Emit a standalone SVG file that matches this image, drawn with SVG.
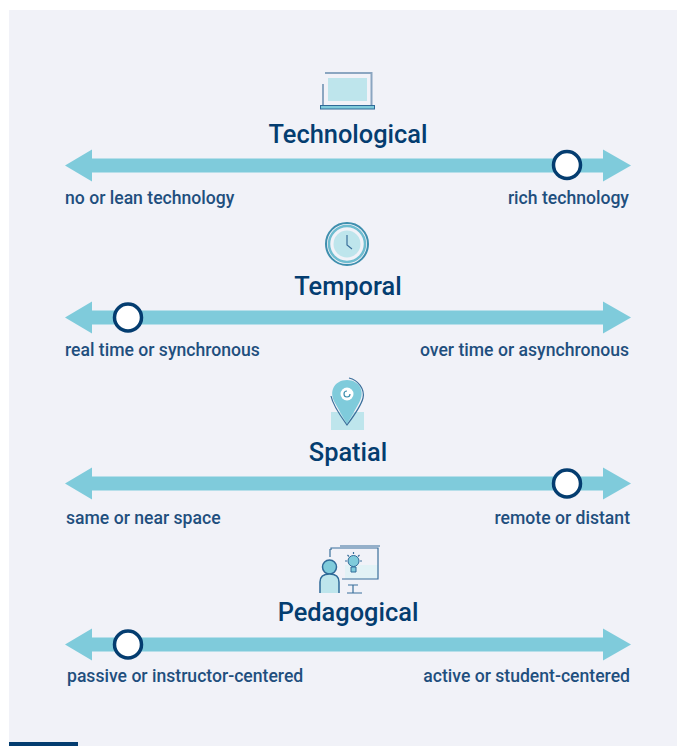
<svg xmlns="http://www.w3.org/2000/svg" width="677" height="746" viewBox="0 0 677 746">
<style>
text{font-family:Roboto,"Liberation Sans",sans-serif}
.t{font-size:25.4px;font-weight:500;fill:#043d70;text-anchor:middle}
.l{font-size:17.600px;font-weight:500;fill:#1f4f7e}
.e{text-anchor:end}
.ar{fill:#7fcbdb}
.k{fill:#fff;stroke:#043d70;stroke-width:3.5}
.ln{fill:none;stroke:#8ba6c1;stroke-width:2}
.dk{fill:none;stroke:#3a6f9b;stroke-width:1.2}
.pale{fill:#bee5ec}
</style>
<defs>
<path id="arrow" class="ar" d="M65 0L92-16V-7H603V-16L631 0L603 16V7H92V16Z"/>
</defs>
<rect width="677" height="746" fill="#fff"/>
<rect x="9" y="10" width="668" height="736" fill="#f1f2f8"/>
<rect x="9" y="742" width="69" height="4" fill="#043d70"/>
<g id="connectors">
<use href="#arrow" y="165.500"/>
<use href="#arrow" y="317.500"/>
<use href="#arrow" y="483.500"/>
<use href="#arrow" y="644.500"/>
</g>
<g id="technological">
<path class="ln" d="M325 73H371.500V105"/><path class="ln" d="M323 84V105"/>
<rect class="pale" x="328" y="78" width="39" height="23"/>
<rect x="320.500" y="105.500" width="54" height="3.500" fill="#7fcbdb" stroke="#2f6a98" stroke-width="1"/>
<text class="t" x="348" y="142.500">Technological</text>
<circle class="k" cx="567" cy="165" r="13.500"/>
<text class="l" x="65" y="204">no or lean technology</text>
<text class="l e" x="629" y="204">rich technology</text>
</g>
<g id="temporal">
<circle cx="347" cy="244" r="21" fill="none" stroke="#3f8fae" stroke-width="2"/>
<circle cx="347" cy="244" r="18" fill="none" stroke="#6fbdd0" stroke-width="2.500"/>
<circle class="pale" cx="347" cy="244" r="13.500"/>
<path class="dk" d="M347 235V245L352 249"/>
<text class="t" x="348" y="294.500">Temporal</text>
<circle class="k" cx="128" cy="317.500" r="13.500"/>
<text class="l" x="65" y="355.500">real time or synchronous</text>
<text class="l e" x="629" y="355.500">over time or asynchronous</text>
</g>
<g id="spatial">
<rect class="pale" x="331" y="412" width="33" height="18"/>
<path d="M347 424L335 403C328 391 335 380 347 380C359 380 366 391 359 403Z" fill="#7fcbdb"/>
<circle cx="347" cy="394" r="6.500" fill="#fff"/>
<path d="M350 394A3 3 0 1 1 347 391" fill="none" stroke="#3f8fae" stroke-width="1.200"/>
<path class="dk" d="M331 396C333 406 342 418 347 425C353 417 361 406 363 398C365 389 358 380 349 378"/>
<text class="t" x="348" y="460.500">Spatial</text>
<circle class="k" cx="567" cy="483.500" r="13.500"/>
<text class="l" x="66" y="524">same or near space</text>
<text class="l e" x="630" y="524">remote or distant</text>
</g>
<g id="pedagogical">
<rect x="345" y="565" width="33" height="14" fill="#e2f2f6"/>
<path class="dk" d="M331 550V548H378V579H342"/><path class="dk" d="M340 546H380"/><path class="dk" d="M330 549V557"/>
<path class="dk" d="M348 585H358M353 585V593M347 593H362"/>
<circle cx="353.500" cy="561" r="5.500" fill="#7fcbdb" stroke="#2f6a98" stroke-width="1"/>
<path d="M351 567H356V572H351Z" fill="#7fcbdb" stroke="#2f6a98" stroke-width="1"/>
<path class="dk" d="M353.500 552V554M345 561H347M360 561H362M347.500 555L349 556.500M359.500 555L358 556.500"/>
<circle cx="329.500" cy="567" r="7" fill="#7fcbdb" stroke="#2f6a98" stroke-width="1.500"/>
<path d="M320 593V582C320 576 324 574 329.500 574C335 574 339 576 339 582V593Z" fill="#bee5ec"/>
<path d="M320 593V582C320 576 324 574 329.500 574C335 574 339 576 339 582V593" fill="none" stroke="#2f6a98" stroke-width="1.500"/>
<text class="t" x="348" y="620.500">Pedagogical</text>
<circle class="k" cx="128" cy="644.500" r="13.500"/>
<text class="l" x="67" y="682">passive or instructor-centered</text>
<text class="l e" x="630" y="682">active or student-centered</text>
</g>
</svg>
